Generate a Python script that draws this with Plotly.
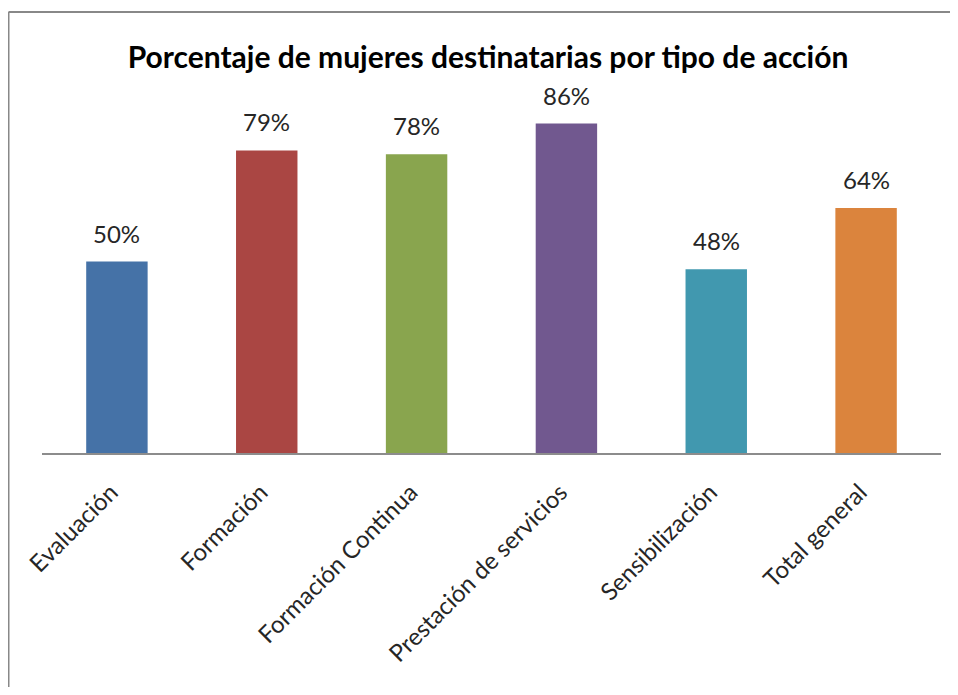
import plotly.graph_objects as go

categories = ["Evaluación", "Formación", "Formación Continua",
              "Prestación de servicios", "Sensibilización", "Total general"]
values = [0.50, 0.79, 0.78, 0.86, 0.48, 0.64]
labels = ["50%", "79%", "78%", "86%", "48%", "64%"]
colors = ["#4572A7", "#AA4643", "#89A54E", "#71588F", "#4198AF", "#DB843D"]

FONT = "Lato"

# page body has an 8px margin on every side; keep the figure inside the window
W, H = 942, 679
L, R, T, B = 34, 9, 62, 234
PW, PH = W - L - R, H - T - B

fig = go.Figure()
fig.add_trace(go.Bar(
    x=categories, y=values,
    marker=dict(color=colors, line=dict(width=0)),
    width=0.41,
    hoverinfo="skip",
))

for c, v, t in zip(categories, values, labels):
    fig.add_annotation(x=c, y=v, text=t, showarrow=False,
                       yanchor="bottom", yshift=12,
                       font=dict(family=FONT, size=24, color="#262626"))

fx = (0.5 - L) / PW
fy = (H - B - 4) / PH

fig.update_layout(
    width=W, height=H,
    margin=dict(l=L, r=R, t=T, b=B),
    paper_bgcolor="white", plot_bgcolor="white",
    showlegend=False,
    title=dict(text="<b>Porcentaje de mujeres destinatarias por tipo de acción</b>",
               x=480 / W, xanchor="center", y=1 - 49 / H, yanchor="middle",
               font=dict(family=FONT, size=30, color="black")),
    xaxis=dict(showline=True, linecolor="#8c8c8c", linewidth=1.5,
               ticks="", tickangle=-45, showgrid=False,
               ticklabelstandoff=14, ticklabelshift=-6,
               tickfont=dict(family=FONT, size=24, color="#262626")),
    yaxis=dict(range=[0, 1], visible=False, showgrid=False, zeroline=False),
    shapes=[
        dict(type="line", xref="paper", yref="paper",
             x0=fx, x1=(W - L) / PW, y0=fy, y1=fy,
             line=dict(color="#888888", width=2)),
        dict(type="line", xref="paper", yref="paper",
             x0=fx, x1=fx, y0=fy, y1=-B / PH,
             line=dict(color="#888888", width=2)),
    ],
)

fig.write_html("out.html", config=dict(displayModeBar=False))
